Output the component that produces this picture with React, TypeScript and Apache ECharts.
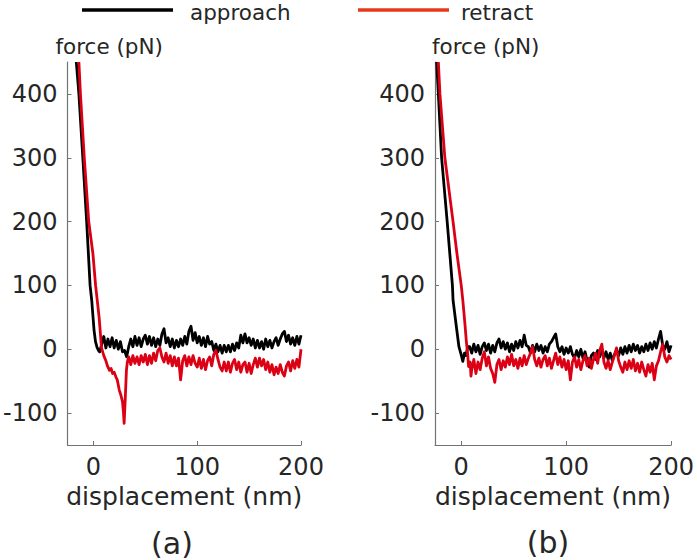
import React, { useEffect, useRef } from "react";
import * as echarts from "echarts";

// Shared displacement grid for the noisy baseline part (nm)
const GRID_X = [
  6, 8, 10, 12, 14, 16, 18, 20, 22, 24, 26, 28, 30, 32, 34, 36, 38, 40, 42, 44,
  46, 48, 50, 52, 54, 56, 58, 60, 62, 64, 66, 68, 70, 72, 74, 76, 78, 80, 82, 84,
  86, 88, 90, 92, 94, 96, 98, 100, 102, 104, 106, 108, 110, 112, 114, 116, 118, 120, 122, 124,
  126, 128, 130, 132, 134, 136, 138, 140, 142, 144, 146, 148, 150, 152, 154, 156, 158, 160, 162, 164,
  166, 168, 170, 172, 174, 176, 178, 180, 182, 184, 186, 188, 190, 192, 194, 196, 198, 200,
];

// Panel (a) — approach: steep contact part [x, force]
const approachA_steep = [
  [-16.5, 450], [-14, 400], [-10.2, 300], [-6.5, 200], [-3.2, 100], [-1.6, 76], [0.6, 30], [2, 12], [3.5, 3], [5, -2],
];
const approachA_start = 6;
const approachA_flat = [
  -4, 8, 20, 2, 16, 4, 18, 2, 14, 0,
  12, -4, -2, -12, 4, 16, 4, 20, 6, 18,
  4, 16, 22, 8, 20, 6, 18, 4, 16, 6,
  24, 32, 10, 18, 4, 16, 2, 14, 4, 16,
  6, 20, 8, 28, 36, 14, 26, 10, 20, 6,
  18, 4, 20, 8, 12, -2, 8, -4, 6, -6,
  6, -4, 6, -4, 8, -2, 10, 2, 22, 10,
  24, 10, 18, 6, 16, 2, 14, 2, 12, 0,
  16, 4, 14, 2, 12, 18, 6, 16, 24, 28,
  12, 22, 8, 18, 6, 20, 8, 22,
];

// Panel (a) — retract
const retractA_steep = [
  [-14, 450], [-12.5, 400], [-8.8, 300], [-4.5, 200], [-0.5, 150], [2.1, 100], [5.5, 50], [7.8, 2],
  [10, -10], [12, -18], [13.5, -26], [15.5, -33], [17, -30], [18.5, -38], [20, -36], [21.8, -44],
  [23, -48], [24.9, -64], [26.5, -72], [28, -82], [29, -100], [29.6, -116], [30.6, -80], [31.8, -33], [32.7, -20],
];
const retractA_start = 34;
const retractA_flat = [
  -12, -24, -10, -22, -12, -24, -10, -20, -8, -24,
  -10, -22, -6, -18, -2, 2, -12, -20, -6, -22,
  -10, -26, -12, -26, -14, -48, -18, -10, -26, -12,
  -24, -10, -22, -28, -14, -30, -16, -32, -18, -12,
  -26, -8, -2, -16, -28, -34, -20, -34, -20, -36,
  -22, -16, -32, -20, -36, -24, -20, -36, -22, -38,
  -24, -14, -28, -14, -26, -16, -32, -20, -36, -24,
  -40, -28, -38, -24, -36, -42, -26, -20, -34, -18,
  -30, -16, -28, 0,
];

// Panel (b) — approach
const approachB_steep = [
  [-23.4, 450], [-21.8, 400], [-18.7, 300], [-13.4, 200], [-8.4, 100], [-7.8, 77], [-4.7, 36],
  [-2.2, 4], [0, -9], [1.5, -19], [3.1, -6], [4.5, -10], [6.2, 4],
];
const approachB_start = 8;
const approachB_flat = [
  4, -6, 8, -4, 6, -8, 4, 10, -2, 8,
  -6, 6, -4, 10, 16, 2, 12, 0, 10, -4,
  8, -2, 12, 2, 14, 4, 22, 6, 4, -6,
  6, -4, 8, -2, 6, -6, 4, -4, 8, 12,
  18, 24, 4, -4, 4, -8, 2, -6, 4, -8,
  -14, -2, -12, 0, -14, -4, -18, -28, -10, -6,
  -16, -2, -12, 0, -14, -4, -16, -6, -18, -8,
  -2, -10, 2, -8, 4, -6, 6, -4, 8, -2,
  6, -6, 4, -4, 8, -2, 10, 0, 12, 2,
  16, 28, 6, 0, 12, -4, 6,
];

// Panel (b) — retract
const retractB_steep = [
  [-21.8, 450], [-20.3, 400], [-15.6, 300], [-7.8, 200], [-4.1, 150], [0, 100], [1.5, 77], [3.5, 40],
  [5, 10], [6, -5], [7, -27], [8.5, -20], [9.3, -42],
];
const retractB_start = 10;
const retractB_flat = [
  -32, -16, -38, -20, -32, -14, -4, -26, -12, -30,
  -38, -52, -24, -16, -32, -18, -28, -12, -24, -8,
  -26, -16, -30, -14, -26, -10, -24, -14, -6, 4,
  -16, -26, -14, -28, -16, -10, -26, -14, -30, -18,
  -6, -24, -12, -28, -16, -32, -18, -48, -20, -12,
  -28, -16, -32, -18, -10, -26, -14, -30, -16, -6,
  -22, -2, 8, -20, -30, -18, -32, -20, -10, 2,
  -18, -28, -36, -20, -32, -18, -30, -16, -34, -22,
  -36, -20, -32, -42, -24, -36, -22, -48, -26, -18,
  -4, 8, -12, -20, -10, -16,
];

const X_TICKS = [0, 100, 200];
const Y_TICKS = [-100, 0, 100, 200, 300, 400];
const SERIES_NAMES = ["approach", "retract"];
const PANEL_LABELS = ["(a)", "(b)"];

function build(steep: number[][], start: number, flat: number[]) {
  const idx = GRID_X.indexOf(start);
  const out = steep.map((p) => [p[0], p[1]]);
  flat.forEach((y, i) => {
    if (idx + i < GRID_X.length) out.push([GRID_X[idx + i], y]);
  });
  return out;
}

const FONT = "DejaVu Sans";
const TEXT = "#262626";
const AXIS = "#737373";
const BLACK = "#000000";
const RED = "#dc0014";
const LEGEND_RED = "#e8391d";

export default function App() {
  const ref = useRef<HTMLDivElement>(null);
  useEffect(() => {
    if (!ref.current) return;
    const chart = echarts.init(ref.current, undefined, { renderer: "svg" });

    const grids = [
      { left: 60, top: 62, width: 241, height: 383 },
      { left: 435, top: 62, width: 241, height: 383 },
    ];
    const namePadLeft = [-12, -3];

    const xAxis = grids.map((_, i) => ({
      type: "value",
      gridIndex: i,
      min: -25,
      max: 200,
      axisLine: { show: true, onZero: false, lineStyle: { color: AXIS, width: 1.2 } },
      axisTick: { show: true, inside: true, length: 4, customValues: X_TICKS, lineStyle: { color: AXIS } },
      axisLabel: { customValues: X_TICKS, fontSize: 24, fontFamily: FONT, color: TEXT, margin: 10 },
      splitLine: { show: false },
      name: "displacement (nm)",
      nameLocation: "middle",
      nameGap: 36,
      nameTextStyle: { fontSize: 25, fontFamily: FONT, color: TEXT },
    }));

    const yAxis = grids.map((_, i) => ({
      type: "value",
      gridIndex: i,
      min: -150,
      max: 450,
      axisLine: { show: true, onZero: false, lineStyle: { color: AXIS, width: 1.2 } },
      axisTick: { show: true, inside: true, length: 4, customValues: Y_TICKS, lineStyle: { color: AXIS } },
      axisLabel: { customValues: Y_TICKS, fontSize: 24, fontFamily: FONT, color: TEXT, margin: 10 },
      splitLine: { show: false },
      name: "force (pN)",
      nameLocation: "end",
      nameGap: 16,
      nameTextStyle: { fontSize: 21.5, fontFamily: FONT, color: TEXT, align: "left", verticalAlign: "middle", padding: [0, 0, 0, namePadLeft[i]] },
    }));

    const panels = [
      [build(approachA_steep, approachA_start, approachA_flat), build(retractA_steep, retractA_start, retractA_flat)],
      [build(approachB_steep, approachB_start, approachB_flat), build(retractB_steep, retractB_start, retractB_flat)],
    ];

    const series: any[] = [];
    panels.forEach((p, i) => {
      p.forEach((data, j) => {
        series.push({
          type: "line",
          name: SERIES_NAMES[j],
          xAxisIndex: i,
          yAxisIndex: i,
          data,
          showSymbol: false,
          symbol: "none",
          lineStyle: { color: j === 0 ? BLACK : RED, width: 2.8, join: "round" },
          itemStyle: { color: j === 0 ? BLACK : RED },
          z: 2 + j,
        });
      });
    });

    const graphic: any[] = [
      { type: "line", shape: { x1: 82, y1: 10, x2: 173, y2: 10 }, style: { stroke: BLACK, lineWidth: 3.5 } },
      { type: "text", x: 190, y: 12, style: { text: SERIES_NAMES[0], fontSize: 21.5, fontFamily: FONT, fill: TEXT, verticalAlign: "middle", align: "left" } },
      { type: "line", shape: { x1: 358, y1: 10, x2: 449, y2: 10 }, style: { stroke: LEGEND_RED, lineWidth: 3.5 } },
      { type: "text", x: 461, y: 12, style: { text: SERIES_NAMES[1], fontSize: 21.5, fontFamily: FONT, fill: TEXT, verticalAlign: "middle", align: "left" } },
      { type: "text", x: 172, y: 543, style: { text: PANEL_LABELS[0], fontSize: 30, fontFamily: FONT, fill: TEXT, verticalAlign: "middle", align: "center" } },
      { type: "text", x: 548, y: 542, style: { text: PANEL_LABELS[1], fontSize: 30, fontFamily: FONT, fill: TEXT, verticalAlign: "middle", align: "center" } },
    ];

    chart.setOption({
      animation: false,
      backgroundColor: "#ffffff",
      grid: grids,
      xAxis,
      yAxis,
      series,
      graphic,
    });
    return () => chart.dispose();
  }, []);
  return <div ref={ref} style={{ position: "absolute", left: 0, top: 0, width: 697, height: 560 }} />;
}
